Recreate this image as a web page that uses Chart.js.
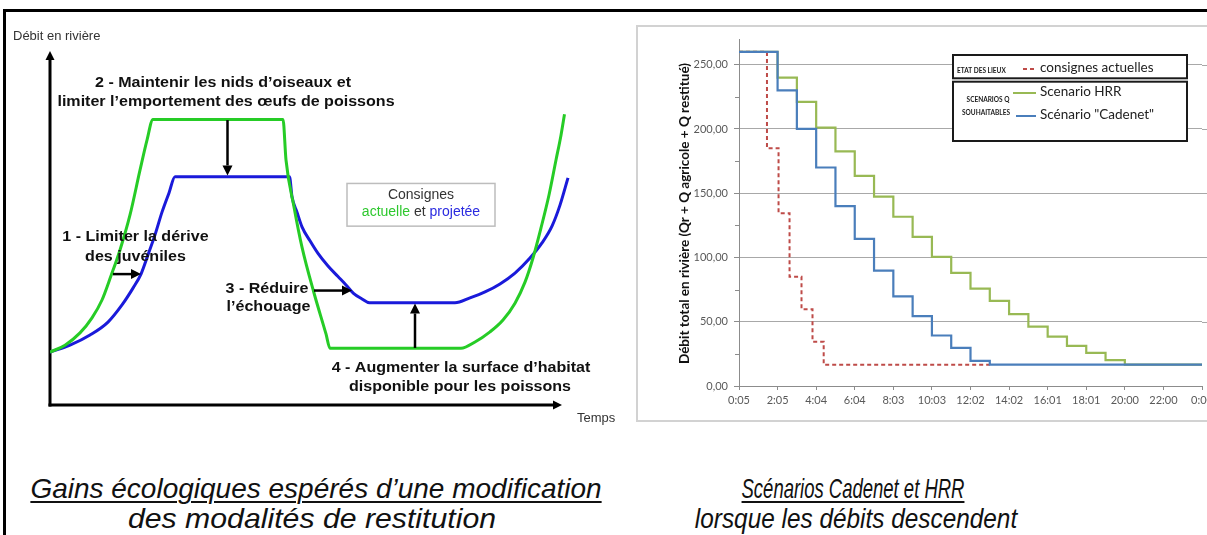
<!DOCTYPE html>
<html><head><meta charset="utf-8">
<script src="https://cdn.jsdelivr.net/npm/chart.js@4.4.0/dist/chart.umd.min.js"></script>
<style>
html,body{margin:0;padding:0;background:#fff;}
body{width:1207px;height:535px;overflow:hidden;position:relative;font-family:"Liberation Sans",Arial,sans-serif;}
#border{position:absolute;left:3px;top:9px;width:1300px;height:600px;border-top:3px solid #000;border-left:3px solid #000;}
#leftCanvas{position:absolute;left:0;top:0;}
#rightFrame{position:absolute;left:636px;top:25px;width:640px;height:393px;border:2px solid #d2d2d2;}
#rightCanvas{position:absolute;left:636px;top:25px;}
.cap{position:absolute;font-style:italic;font-size:28px;color:#111;white-space:nowrap;line-height:30px;}
.u{text-decoration:underline;text-decoration-thickness:1.5px;text-underline-offset:3px;}
</style></head>
<body>
<div id="border"></div>
<canvas id="leftCanvas" width="620" height="430"></canvas>
<div id="rightFrame"></div>
<canvas id="rightCanvas" width="620" height="395"></canvas>
<div class="cap u" style="left:316px;top:489px;transform:translate(-50%,-50%) scaleX(1);">Gains écologiques espérés d’une modification</div>
<div class="cap" style="left:312px;top:519px;transform:translate(-50%,-50%) scaleX(1.08);">des modalités de restitution</div>
<div class="cap u" style="left:853px;top:489px;transform:translate(-50%,-50%) scaleX(0.66);">Scénarios Cadenet et HRR</div>
<div class="cap" style="left:856px;top:519px;transform:translate(-50%,-50%) scaleX(0.87);">lorsque les débits descendent</div>
<script>
// ---------- LEFT: conceptual diagram (time units 0..104, flow units 0..100) ----------
const actuelleX = [0,3,6,8.4,10.4,12.2,14,16,18,19.4,20.6,46.6,47.2,48.8,50.4,52.8,55.2,56,82.2,85,88,90.6,93,95,96.6,98.2,99.8,101.2,102.2,102.9];
const actuelleY = [15.1,17.1,20.6,24.9,30,36.9,44.3,54.3,67.1,75.7,81.6,81.6,70,56.6,45.1,32,20.3,16.2,16.2,18,20.9,24.3,29.1,35.1,42,50.6,60,70,77.1,83.1];
const projeteeX = [0,4,8,11.6,14.4,16.6,18.2,19.6,21,22.4,23.8,25,47.9,48.4,49.4,50.4,52,53.6,55.6,57.6,59.2,60.7,62.4,63.9,81,84,87,90,93,96,98.4,100.4,102,103.6];
const projeteeY = [15.1,17.1,20,23.7,28.6,33.4,37.4,42.9,48.6,55.1,60.6,65.2,65.2,59.5,55.1,50.9,46.9,43.3,39.7,36.7,34.3,31.9,30.3,29.2,29.2,30.6,32.3,34.6,37.7,42,46.3,51.1,57.1,64.9];

const leftNotes = [
  {t:'2 - Maintenir les nids d’oiseaux et', x:34.6, y:92.0},
  {t:'limiter l’emportement des œufs de poissons', x:35.2, y:86.6},
  {t:'1 - Limiter la dérive', x:17.1, y:48},
  {t:'des juvéniles', x:17.1, y:42.4},
  {t:'3 - Réduire', x:43.4, y:33.3},
  {t:'l’échouage', x:43.7, y:27.9},
  {t:'4 - Augmenter la surface d’habitat', x:82.2, y:10.7},
  {t:'disponible pour les poissons', x:82, y:5.2}
];
const leftArrows = [
  {x1:35.5, y1:81.4, x2:35.5, y2:65.6},
  {x1:12.6, y1:37.4, x2:18.2, y2:37.4},
  {x1:52.8, y1:32.7, x2:60.4, y2:32.7},
  {x1:73, y1:16.3, x2:73, y2:29.0}
];

const pts = (xs, ys) => xs.map((x, i) => ({x: x, y: ys[i]}));

function arrow(ctx, x1, y1, x2, y2, head, w) {
  const a = Math.atan2(y2 - y1, x2 - x1);
  const bx = x2 - head * Math.cos(a), by = y2 - head * Math.sin(a);
  ctx.save();
  ctx.strokeStyle = '#000'; ctx.fillStyle = '#000'; ctx.lineWidth = w;
  ctx.beginPath(); ctx.moveTo(x1, y1); ctx.lineTo(bx, by); ctx.stroke();
  const hw = head * 0.5;
  ctx.beginPath(); ctx.moveTo(x2, y2);
  ctx.lineTo(bx + hw * Math.sin(a), by - hw * Math.cos(a));
  ctx.lineTo(bx - hw * Math.sin(a), by + hw * Math.cos(a));
  ctx.closePath(); ctx.fill();
  ctx.restore();
}

const leftDeco = {
  id: 'leftDeco',
  beforeDatasetsDraw(chart) {
    const {ctx, chartArea: ca} = chart;
    arrow(ctx, ca.left, ca.bottom + 1.5, ca.left, ca.top - 4, 9, 3);
    arrow(ctx, ca.left - 1.5, ca.bottom, ca.right - 8, ca.bottom, 9, 3);
    ctx.save();
    ctx.fillStyle = '#333'; ctx.font = '13px "Liberation Sans", Arial, sans-serif';
    ctx.textBaseline = 'middle'; ctx.textAlign = 'left';
    ctx.fillText('Débit en rivière', 13, 36);
    ctx.fillText('Temps', 577, 418);
    ctx.restore();
  },
  afterDatasetsDraw(chart) {
    const {ctx} = chart;
    const xs = chart.scales.x, ys = chart.scales.y;
    leftArrows.forEach(a => arrow(ctx, xs.getPixelForValue(a.x1), ys.getPixelForValue(a.y1),
      xs.getPixelForValue(a.x2), ys.getPixelForValue(a.y2), 10, 2.5));
    ctx.save();
    ctx.fillStyle = '#111'; ctx.font = 'bold 15px "Liberation Sans", Arial, sans-serif';
    ctx.textAlign = 'center'; ctx.textBaseline = 'middle';
    leftNotes.forEach(n => {
      ctx.save();
      ctx.translate(xs.getPixelForValue(n.x), ys.getPixelForValue(n.y));
      ctx.scale(1.07, 1);
      ctx.fillText(n.t, 0, 0);
      ctx.restore();
    });
    // legend box
    const bx1 = xs.getPixelForValue(59.4), bx2 = xs.getPixelForValue(89);
    const by1 = ys.getPixelForValue(63.3), by2 = ys.getPixelForValue(51.1);
    ctx.strokeStyle = '#bdbdbd'; ctx.lineWidth = 1.5;
    ctx.strokeRect(bx1, by1, bx2 - bx1, by2 - by1);
    ctx.font = '14px "Liberation Sans", Arial, sans-serif';
    const cx = (bx1 + bx2) / 2;
    ctx.fillStyle = '#333';
    ctx.fillText('Consignes', cx, ys.getPixelForValue(59.9));
    const p1 = 'actuelle', p2 = ' et ', p3 = 'projetée';
    const w1 = ctx.measureText(p1).width, w2 = ctx.measureText(p2).width, w3 = ctx.measureText(p3).width;
    let sx = cx - (w1 + w2 + w3) / 2; const ly = ys.getPixelForValue(55.1);
    ctx.textAlign = 'left';
    ctx.fillStyle = '#2ec82e'; ctx.fillText(p1, sx, ly); sx += w1;
    ctx.fillStyle = '#333'; ctx.fillText(p2, sx, ly); sx += w2;
    ctx.fillStyle = '#2a2ae0'; ctx.fillText(p3, sx, ly);
    ctx.restore();
  }
};

new Chart(document.getElementById('leftCanvas'), {
  type: 'line',
  data: {datasets: [
    {label: 'actuelle', data: pts(actuelleX, actuelleY), borderColor: '#26cc26', borderWidth: 3, pointRadius: 0, cubicInterpolationMode: 'monotone'},
    {label: 'projetée', data: pts(projeteeX, projeteeY), borderColor: '#1a1ada', borderWidth: 3, pointRadius: 0, cubicInterpolationMode: 'monotone'}
  ]},
  options: {
    responsive: false, animation: false,
    layout: {padding: {left: 50, right: 50, top: 55, bottom: 25}},
    plugins: {legend: {display: false}, tooltip: {enabled: false}},
    scales: {
      x: {type: 'linear', min: 0, max: 104, display: false},
      y: {type: 'linear', min: 0, max: 100, display: false}
    }
  },
  plugins: [leftDeco]
});

// ---------- RIGHT: stepped flows ----------
const timeTickLabels = ['0:05','2:05','4:04','6:04','8:03','10:03','12:02','14:02','16:01','18:01','20:00','22:00','0:00'];
const cadenetT = [0,2,3,4,5,6,7,8,9,10,11,12,13,24];
const cadenetQ = [260,230,200,170,140,114.5,89.8,69.8,54.3,39.3,29.6,19.6,16.6,16.6];
const hrrT = [0,2,3,4,5,6,7,8,9,10,11,12,13,14,15,16,17,18,19,20,24];
const hrrQ = [260,240,221,201,182.5,163.5,147.3,131.7,116,100.5,88,75.8,66.2,56,46.2,38.4,31.2,25.7,20.2,16.6,16.6];
const actuellesT = [0,1.45,2.05,2.62,3.24,3.81,4.39,13];
const actuellesQ = [260,185,134.5,85,59.7,34.5,16.6,16.6];

const rightDeco = {
  id: 'rightDeco',
  beforeDatasetsDraw(chart) {
    const {ctx, chartArea: ca} = chart;
    const ys = chart.scales.y;
    ctx.save();
    ctx.strokeStyle = '#a8a8a8'; ctx.lineWidth = 1;
    for (let v = 50; v <= 250; v += 50) {
      const y = Math.round(ys.getPixelForValue(v)) + 0.5;
      ctx.beginPath(); ctx.moveTo(ca.right, y); ctx.lineTo(ca.right + 12, y); ctx.stroke();
    }
    ctx.restore();
  },
  afterDraw(chart) {
    const {ctx, chartArea: ca} = chart;
    const ys = chart.scales.y;
    ctx.save();
    ctx.strokeStyle = '#8c8c8c'; ctx.lineWidth = 1;
    for (let v = 25; v < 270; v += 50) {
      const y = Math.round(ys.getPixelForValue(v)) + 0.5;
      ctx.beginPath(); ctx.moveTo(ca.left - 4, y); ctx.lineTo(ca.left, y); ctx.stroke();
    }
    ctx.save();
    ctx.translate(49, 188.5); ctx.rotate(-Math.PI / 2);
    ctx.fillStyle = '#111'; ctx.font = 'bold 13.5px Lato, sans-serif';
    ctx.textAlign = 'center'; ctx.textBaseline = 'middle';
    ctx.fillText('Débit total en rivière (Qr + Q agricole + Q restitué)', 0, 0);
    ctx.restore();
    ctx.fillStyle = '#fff'; ctx.strokeStyle = '#1a1a1a'; ctx.lineWidth = 2;
    ctx.fillRect(317, 30, 234, 23.3); ctx.strokeRect(317, 30, 234, 23.3);
    ctx.fillRect(317, 56.7, 234, 59.3); ctx.strokeRect(317, 56.7, 234, 59.3);
    ctx.fillStyle = '#1a1a1a'; ctx.font = 'bold 6.5px Lato, sans-serif';
    ctx.textBaseline = 'middle'; ctx.textAlign = 'left';
    ctx.fillText('ETAT DES LIEUX', 321, 46);
    ctx.textAlign = 'center';
    ctx.fillText('SCENARIOS Q', 352, 75);
    ctx.fillText('SOUHAITABLES', 350, 87.5);
    ctx.lineWidth = 2;
    ctx.strokeStyle = '#be4b48'; ctx.setLineDash([4, 3]);
    ctx.beginPath(); ctx.moveTo(387, 44); ctx.lineTo(401, 44); ctx.stroke();
    ctx.setLineDash([]);
    ctx.strokeStyle = '#98b954';
    ctx.beginPath(); ctx.moveTo(377, 68); ctx.lineTo(400, 68); ctx.stroke();
    ctx.strokeStyle = '#4a7ebb';
    ctx.beginPath(); ctx.moveTo(380, 91); ctx.lineTo(400, 91); ctx.stroke();
    ctx.fillStyle = '#222'; ctx.font = '13.5px Lato, sans-serif'; ctx.textAlign = 'left';
    ctx.fillText('consignes actuelles', 404, 43);
    ctx.fillText('Scenario HRR', 404, 67);
    ctx.fillText('Scénario "Cadenet"', 404, 90);
    ctx.restore();
  }
};

new Chart(document.getElementById('rightCanvas'), {
  type: 'line',
  data: {datasets: [
    {label: 'Scénario "Cadenet"', data: pts(cadenetT, cadenetQ), borderColor: '#4a7ebb', borderWidth: 2.2, stepped: true, pointRadius: 0},
    {label: 'Scenario HRR', data: pts(hrrT, hrrQ), borderColor: '#98b954', borderWidth: 2.2, stepped: true, pointRadius: 0},
    {label: 'consignes actuelles', data: pts(actuellesT, actuellesQ), borderColor: '#be4b48', borderWidth: 2, borderDash: [4, 3], stepped: true, pointRadius: 0}
  ]},
  options: {
    responsive: false, animation: false,
    layout: {padding: {top: 14, right: 54, left: 0, bottom: 0}},
    plugins: {legend: {display: false}, tooltip: {enabled: false}},
    scales: {
      x: {
        type: 'linear', min: 0, max: 24,
        afterFit: s => { s.height = 34; },
        ticks: {stepSize: 2, autoSkip: false, maxRotation: 0, minRotation: 0, color: '#595959',
                font: {family: 'Lato', size: 11}, padding: 4,
                callback: v => timeTickLabels[Math.round(v / 2)]},
        grid: {drawOnChartArea: false, tickLength: 4, color: '#8c8c8c'},
        border: {color: '#8c8c8c', width: 1}
      },
      y: {
        type: 'linear', min: 0, max: 270,
        afterFit: s => { s.width = 103; },
        ticks: {stepSize: 50, includeBounds: false, color: '#595959', font: {family: 'Lato', size: 11}, padding: 6,
                callback: v => v.toFixed(2).replace('.', ',')},
        grid: {color: '#a8a8a8', tickLength: 5, tickColor: '#8c8c8c'},
        border: {color: '#8c8c8c', width: 1}
      }
    }
  },
  plugins: [rightDeco]
});
</script>
</body></html>
